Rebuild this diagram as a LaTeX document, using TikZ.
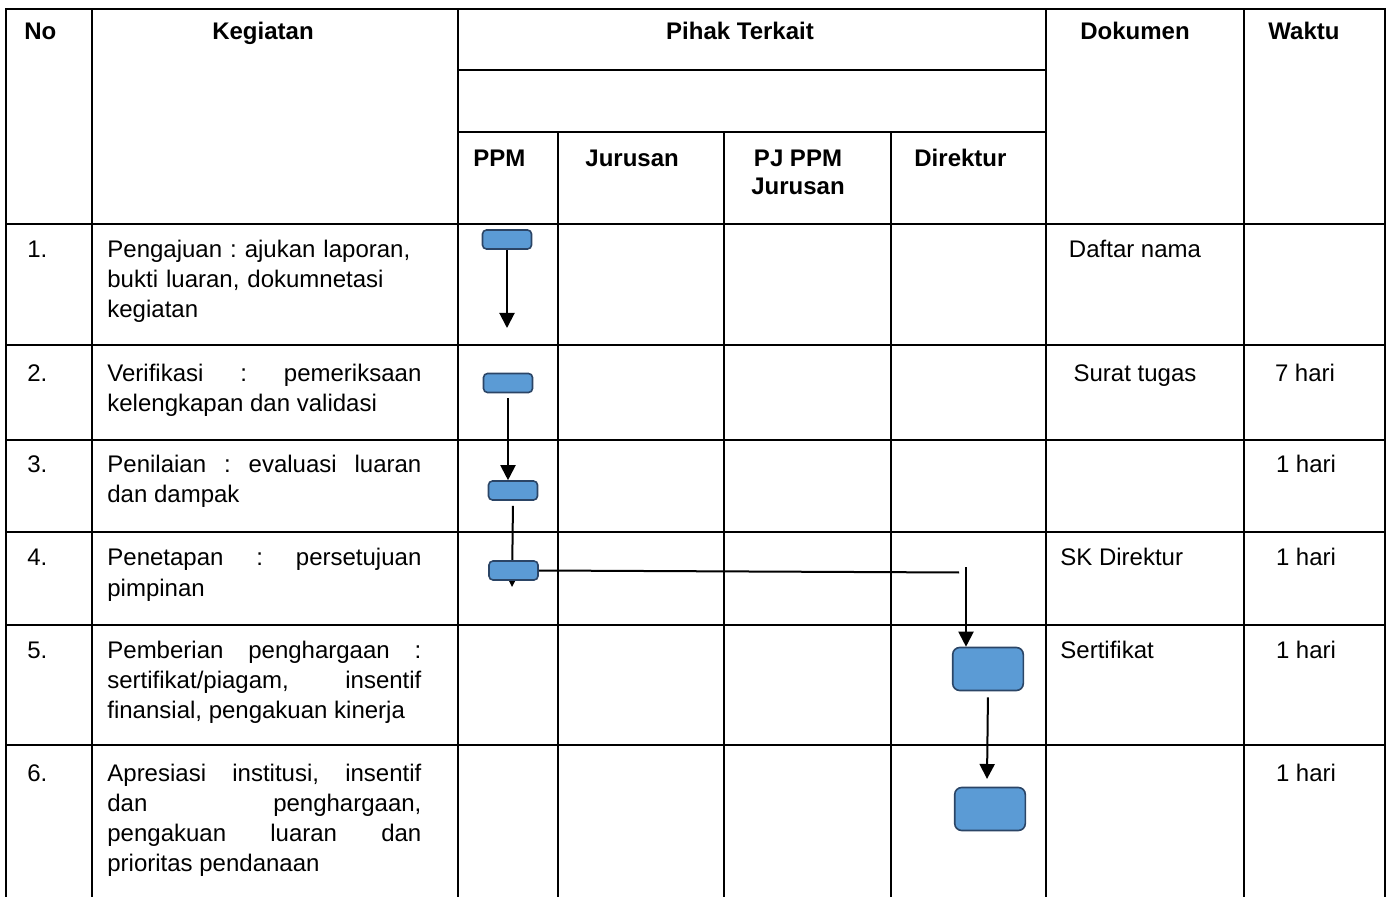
\documentclass[tikz,border=0pt]{standalone}
\usepackage{fontspec}
\setmainfont{Liberation Sans}
\usetikzlibrary{arrows.meta}
\definecolor{boxfill}{HTML}{5B9BD5}
\definecolor{boxedge}{HTML}{2B4566}
\tikzset{
    tabline/.style={line width=1.25pt},
    head/.style={font=\fontsize{12pt}{14pt}\selectfont\bfseries, inner sep=0pt},
    cell/.style={inner sep=0pt},
    act/.style={inner sep=0pt, text width=157pt, align=justify, anchor=base west},
    task/.style={draw=boxedge, fill=boxfill, rounded corners=2pt, line width=0.8pt, minimum width=24.5pt, minimum height=9.5pt, inner sep=0pt},
    bigtask/.style={task, rounded corners=3.5pt, minimum width=35.3pt, minimum height=21.5pt},
    flow/.style={line width=1pt, -{Triangle[length=7.5pt,width=7.5pt]}},
}
\begin{document}
\begin{tikzpicture}[x=0.5pt, y=-0.5pt, font=\fontsize{12pt}{15pt}\selectfont\frenchspacing]
    \useasboundingbox (0,0) rectangle (1391,897);
    \draw[tabline] (6,897) -- (6,9) -- (1385,9) -- (1385,897);
    \foreach \x in {92,458,1046,1244}
        \draw[tabline] (\x,9) -- (\x,897);
    \foreach \x in {558,724,891}
        \draw[tabline] (\x,132) -- (\x,897);
    \foreach \y in {70,132}
        \draw[tabline] (458,\y) -- (1046,\y);
    \foreach \y in {224,345,440,532,625,745}
        \draw[tabline] (6,\y) -- (1385,\y);

    \node[head, anchor=base west] (hno) at (24,40) {No};
    \node[head, anchor=base] (hkeg) at (263,40) {Kegiatan};
    \node[head, anchor=base] (hpihak) at (740,40) {Pihak Terkait};
    \node[head, anchor=base] (hdok) at (1135,40) {Dokumen};
    \node[head, anchor=base] (hwkt) at (1304,40) {Waktu};
    \node[head, anchor=base west] (hppm) at (473,167) {PPM};
    \node[head, anchor=base west] (hjur) at (585,167) {Jurusan};
    \node[head, anchor=base, align=center] (hpj) at (798,195) {PJ PPM\\Jurusan};
    \node[head, anchor=base west] (hdir) at (914,167) {Direktur};

    \node[cell, anchor=base west] (no1) at (27,258) {1.};
    \node[cell, anchor=base west] (no2) at (27,382) {2.};
    \node[cell, anchor=base west] (no3) at (27,473) {3.};
    \node[cell, anchor=base west] (no4) at (27,566) {4.};
    \node[cell, anchor=base west] (no5) at (27,658) {5.};
    \node[cell, anchor=base west] (no6) at (27,781) {6.};

    \node[act, align=left] (keg1) at (107,258) {Pengajuan : ajukan laporan,\\bukti luaran, dokumnetasi\\kegiatan};
    \node[act] (keg2) at (107,382) {Verifikasi : pemeriksaan\linebreak kelengkapan dan validasi};
    \node[act] (keg3) at (107,473) {Penilaian : evaluasi luaran\linebreak dan dampak};
    \node[act] (keg4) at (107,566) {Penetapan : persetujuan\linebreak pimpinan};
    \node[act] (keg5) at (107,658) {Pemberian penghargaan :\linebreak sertifikat/piagam, insentif\linebreak finansial, pengakuan kinerja};
    \node[act] (keg6) at (107,781) {Apresiasi institusi, insentif\linebreak dan penghargaan,\linebreak pengakuan luaran dan\linebreak prioritas pendanaan};

    \node[cell, anchor=base] (dok1) at (1135,258) {Daftar nama};
    \node[cell, anchor=base] (dok2) at (1135,382) {Surat tugas};
    \node[cell, anchor=base west] (dok4) at (1060,566) {SK Direktur};
    \node[cell, anchor=base west] (dok5) at (1060,658) {Sertifikat};
    \node[cell, anchor=base] (wkt2) at (1305,382) {7 hari};
    \node[cell, anchor=base] (wkt3) at (1306,473) {1 hari};
    \node[cell, anchor=base] (wkt4) at (1306,566) {1 hari};
    \node[cell, anchor=base] (wkt5) at (1306,658) {1 hari};
    \node[cell, anchor=base] (wkt6) at (1306,781) {1 hari};

    \node[task] (b1) at (507,239.5) {};
    \node[task] (b2) at (508,383) {};
    \node[task] (b3) at (513,490.5) {};
    \node[bigtask] (b5) at (988,669) {};
    \node[bigtask] (b6) at (990,809) {};
    \coordinate (e1) at (507,328);
    \coordinate (e3) at (512,587);
    \coordinate (e4) at (959,572.5);
    \coordinate (s5) at (966,567);
    \coordinate (e5) at (987,779);
    \draw[flow] (b1.south) -- (e1);
    \draw[flow, shorten <=2.5pt] (b2.south) -- (b2.south |- b3.north);
    \draw[flow, shorten <=2.5pt] (b3.south) -- (e3);
    \node[task] (b4) at (513.5,570.5) {};
    \draw[line width=1pt] (b4.east) -- (e4);
    \draw[flow] (s5) -- (s5 |- b5.north);
    \draw[flow, shorten <=3pt] (b5.south) -- (e5);
\end{tikzpicture}
\end{document}
